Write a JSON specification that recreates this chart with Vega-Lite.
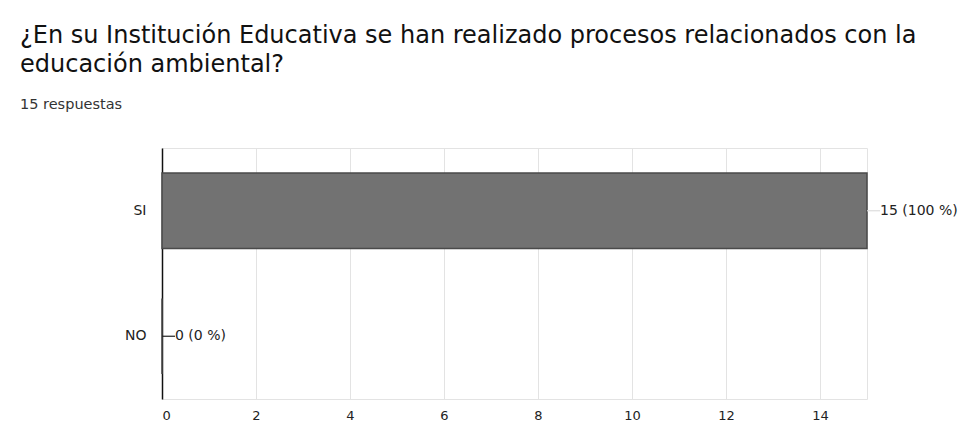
{
  "$schema": "https://vega.github.io/schema/vega-lite/v6.json",
  "autosize": "none",
  "width": 705,
  "height": 251,
  "padding": {"left": 162, "top": 148, "right": 94, "bottom": 43},
  "background": "white",
  "title": {
    "text": ["¿En su Institución Educativa se han realizado procesos relacionados con la", "educación ambiental?"],
    "subtitle": "15 respuestas",
    "anchor": "start",
    "frame": "group",
    "dx": -142,
    "offset": 37,
    "font": "DejaVu Sans",
    "fontSize": 24,
    "fontWeight": "normal",
    "lineHeight": 29,
    "color": "#111111",
    "subtitleFont": "DejaVu Sans",
    "subtitleFontSize": 14.5,
    "subtitleColor": "#333333",
    "subtitlePadding": 21
  },
  "data": {
    "values": [
      {"respuesta": "SI", "count": 15, "label": "15 (100 %)"},
      {"respuesta": "NO", "count": 0, "label": "0 (0 %)"}
    ]
  },
  "encoding": {
    "y": {
      "field": "respuesta",
      "type": "nominal",
      "sort": ["SI", "NO"],
      "title": null,
      "scale": {"paddingInner": 0.4, "paddingOuter": 0.2},
      "axis": {
        "ticks": false,
        "domain": true,
        "domainColor": "#111111",
        "domainWidth": 1.5,
        "labelPadding": 16,
        "labelFont": "DejaVu Sans",
        "labelFontSize": 14,
        "labelColor": "#222222",
        "grid": false
      }
    },
    "x": {
      "field": "count",
      "type": "quantitative",
      "title": null,
      "scale": {"domain": [0, 15], "nice": false},
      "axis": {
        "values": [0, 2, 4, 6, 8, 10, 12, 14],
        "ticks": false,
        "domain": false,
        "grid": true,
        "gridColor": "#e3e3e3",
        "labelPadding": 10,
        "labelFont": "DejaVu Sans",
        "labelFontSize": 13,
        "labelColor": "#222222"
      }
    }
  },
  "layer": [
    {
      "mark": {"type": "bar", "color": "#727272", "stroke": "#4a4a4a", "strokeWidth": 1.5}
    },
    {
      "mark": {"type": "rule", "x2Offset": 13, "strokeWidth": 1.2},
      "encoding": {
        "x2": {"field": "count"},
        "color": {"condition": {"test": "datum.count == 0", "value": "#222222"}, "value": "#dddddd"}
      }
    },
    {
      "mark": {"type": "text", "align": "left", "baseline": "middle", "dx": 13, "font": "DejaVu Sans", "fontSize": 14, "color": "#222222"},
      "encoding": {"text": {"field": "label"}}
    }
  ],
  "config": {
    "view": {"stroke": "#e3e3e3"}
  }
}
